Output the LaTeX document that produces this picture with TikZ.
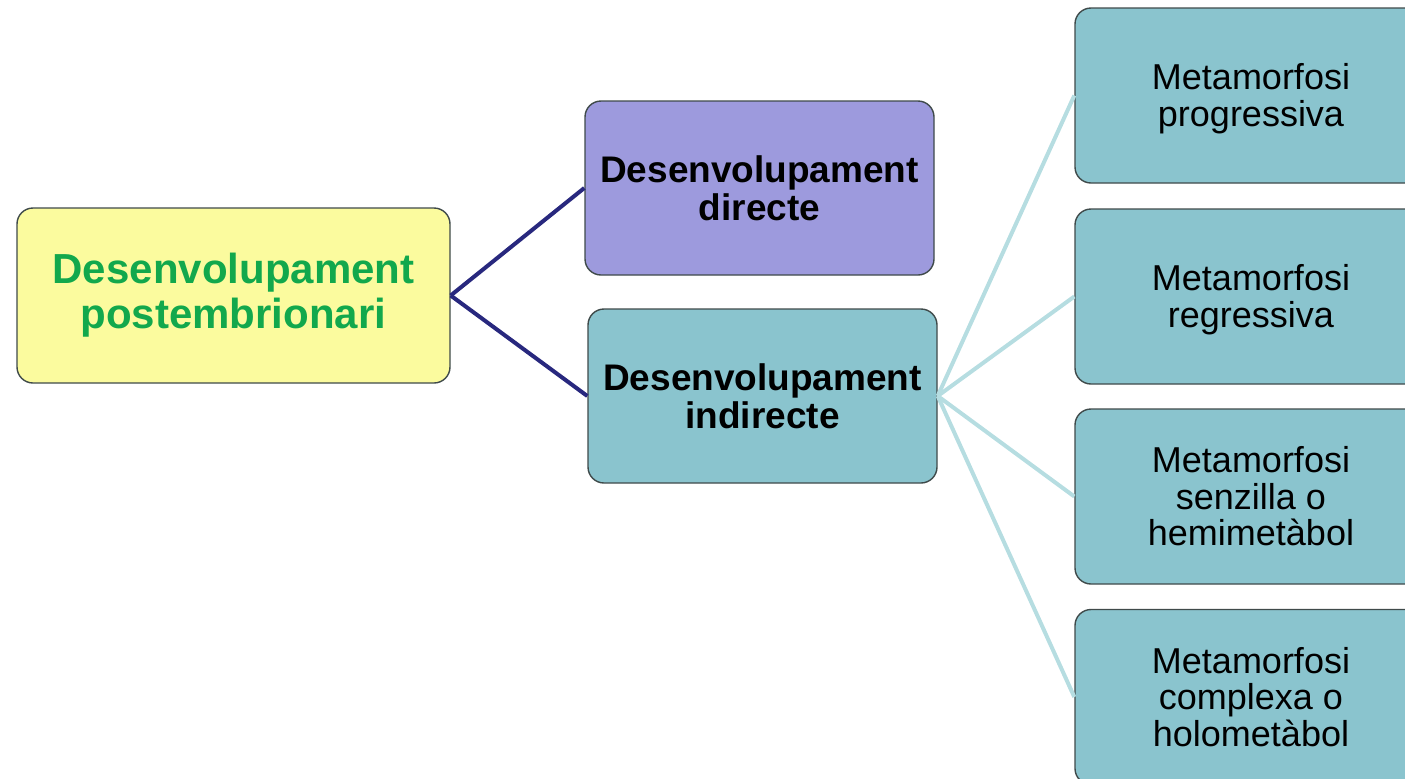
\documentclass[tikz,border=0pt]{standalone}
\usepackage{fontspec}
\setmainfont{Liberation Sans}
\definecolor{rootfill}{HTML}{FBFB9E}
\definecolor{roottext}{HTML}{12A84C}
\definecolor{directfill}{HTML}{9D9ADD}
\definecolor{tealfill}{HTML}{8AC4CE}
\definecolor{boxline}{HTML}{3F4A4A}
\definecolor{navyline}{HTML}{28287E}
\definecolor{paleline}{HTML}{B6DDE1}
\begin{document}
\begin{tikzpicture}[
		x=0.5pt, y=-0.5pt,
		box/.style={rectangle, draw=boxline, line width=0.7pt, rounded corners=8pt, align=center, inner sep=2pt},
		root/.style={box, fill=rootfill, text=roottext, minimum width=216.5pt, minimum height=87.5pt, font=\fontsize{21}{22.5}\selectfont\bfseries},
		branch/.style={box, minimum width=174.5pt, minimum height=87pt, font=\fontsize{18.5}{19}\selectfont\bfseries},
		kind/.style={box, fill=tealfill, minimum width=176pt, minimum height=87.5pt, font=\fontsize{18}{18.3}\selectfont},
		strong/.style={navyline, line width=2pt},
		soft/.style={paleline, line width=2pt}
		]
		\useasboundingbox (0,0) rectangle (1405,778);
		\clip (0,0) rectangle (1405,778);
		% Root Node
		\node[root] (post) at (233.5,295.5) {Desenvolupament\\postembrionari};
		% Second level
		\node[branch, fill=directfill] (direct) at (759.5,188) {Desenvolupament\\directe};
		\node[branch, fill=tealfill] (indirect) at (762.5,396) {Desenvolupament\\indirecte};
		% Kinds of metamorphosis
		\node[kind] (prog) at (1251,95.5) {\rule{0pt}{16pt}Metamorfosi\\progressiva};
		\node[kind] (regr) at (1251,296.5) {\rule{0pt}{16pt}Metamorfosi\\regressiva};
		\node[kind] (hemi) at (1251,496.5) {Metamorfosi\\senzilla o\\hemimetàbol};
		\node[kind] (holo) at (1251,697) {Metamorfosi\\complexa o\\holometàbol};
		% Connectors
		\draw[strong] (post.east) -- (direct.west);
		\draw[strong] (post.east) -- (indirect.west);
		\foreach \k in {prog,regr,hemi,holo}
			\draw[soft] (indirect.east) -- (\k.west);
\end{tikzpicture}
\end{document}
